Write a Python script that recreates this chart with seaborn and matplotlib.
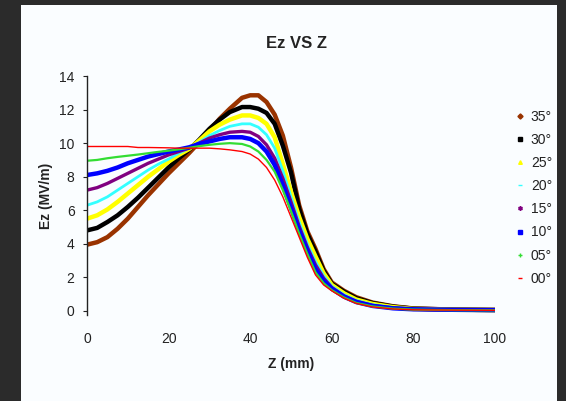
import matplotlib
matplotlib.use("Agg")
import matplotlib.pyplot as plt
from matplotlib.patches import Rectangle
from matplotlib.lines import Line2D
import seaborn as sns
import pandas as pd

sns.set_theme(style="white")
plt.rcParams['font.family'] = ['Liberation Sans', 'DejaVu Sans']

# ---- data ----
z = [0, 2.5, 5, 7.5, 10, 12.5, 15, 17.5, 20, 22.5, 25, 27.5, 30, 32.5, 35, 38, 40, 42, 44, 46,
     48, 50, 52, 54, 56, 58, 60, 63, 66, 70, 75, 80, 90, 100]

ez_35 = [3.95, 4.1, 4.4, 4.9, 5.5, 6.2, 6.9, 7.55, 8.2, 8.8, 9.4, 10.05, 10.75, 11.45, 12.05, 12.7, 12.85, 12.85, 12.45, 11.7,
         10.45, 8.55, 6.3, 4.75, 3.7, 2.5, 1.7, 1.2, 0.82, 0.5, 0.28, 0.15, 0.08, 0.06]
ez_30 = [4.8, 4.95, 5.3, 5.7, 6.2, 6.75, 7.35, 7.95, 8.55, 9.1, 9.6, 10.2, 10.85, 11.4, 11.85, 12.15, 12.15, 12.05, 11.8, 11.15,
         9.85, 8.25, 6.1, 4.6, 3.55, 2.4, 1.62, 1.15, 0.76, 0.47, 0.26, 0.14, 0.08, 0.06]
ez_25 = [5.5, 5.7, 6.05, 6.5, 7.0, 7.5, 8.0, 8.45, 8.9, 9.3, 9.65, 10.15, 10.7, 11.1, 11.4, 11.65, 11.65, 11.5, 11.15, 10.35,
         8.75, 7.1, 5.6, 4.3, 3.25, 2.25, 1.55, 1.05, 0.68, 0.42, 0.23, 0.12, 0.07, 0.05]
ez_20 = [6.3, 6.5, 6.8, 7.2, 7.6, 8.0, 8.4, 8.75, 9.05, 9.4, 9.7, 10.05, 10.45, 10.75, 11.0, 11.15, 11.15, 10.95, 10.5, 9.7,
         8.35, 6.8, 5.3, 4.0, 2.95, 2.1, 1.48, 0.97, 0.63, 0.38, 0.21, 0.11, 0.07, 0.05]
ez_15 = [7.2, 7.35, 7.6, 7.9, 8.2, 8.5, 8.8, 9.05, 9.3, 9.5, 9.7, 10.0, 10.3, 10.5, 10.65, 10.7, 10.65, 10.4, 9.9, 9.1,
         7.9, 6.5, 5.05, 3.8, 2.75, 1.95, 1.4, 0.9, 0.58, 0.33, 0.18, 0.1, 0.07, 0.05]
ez_10 = [8.1, 8.2, 8.35, 8.55, 8.8, 9.0, 9.2, 9.35, 9.5, 9.62, 9.75, 9.95, 10.1, 10.25, 10.35, 10.35, 10.25, 10.0, 9.5, 8.7,
         7.5, 6.15, 4.8, 3.6, 2.5, 1.8, 1.32, 0.85, 0.53, 0.3, 0.16, 0.1, 0.07, 0.05]
ez_05 = [8.95, 9.0, 9.1, 9.18, 9.25, 9.32, 9.4, 9.48, 9.55, 9.63, 9.72, 9.82, 9.9, 9.96, 10.0, 9.95, 9.8, 9.5, 9.0, 8.3,
         7.2, 5.95, 4.6, 3.4, 2.3, 1.65, 1.24, 0.8, 0.48, 0.27, 0.14, 0.08, 0.05, 0.04]
ez_00 = [9.8, 9.8, 9.8, 9.8, 9.8, 9.74, 9.74, 9.73, 9.72, 9.7, 9.7, 9.7, 9.7, 9.66, 9.6, 9.5, 9.35, 9.05, 8.55, 7.8,
         6.8, 5.6, 4.4, 3.2, 2.15, 1.55, 1.2, 0.76, 0.45, 0.24, 0.12, 0.07, 0.05, 0.04]

labels = ["35°", "30°", "25°", "20°", "15°", "10°", "05°", "00°"]
series = [ez_35, ez_30, ez_25, ez_20, ez_15, ez_10, ez_05, ez_00]

colors = ["#993300", "#000000", "#ffff00", "#33ffff", "#800080", "#0000ff", "#33dd33", "#ff0000"]
widths = [3.2, 3.2, 3.2, 2.0, 2.4, 3.2, 1.6, 1.0]
leg_markers = ["D", "s", "^", "_", "$\u2217$", "s", "+", "_"]

W, H = 566, 401
fig = plt.figure(figsize=(W / 100, H / 100), dpi=100, facecolor="#2b2b2b")
bg = "#fafdff"
fig.patches.append(Rectangle((21 / W, 0), (557 - 21) / W, (H - 5) / H,
                             transform=fig.transFigure, facecolor=bg, edgecolor="none", zorder=-10))

ax = fig.add_axes([87 / W, (H - 315) / H, (495 - 87) / W, (315 - 76) / H])
ax.set_facecolor("none")
ax.set_zorder(5)

for lab, vals, col, lw in zip(labels, series, colors, widths):
    df = pd.DataFrame({"Z": z, "Ez": vals})
    sns.lineplot(data=df, x="Z", y="Ez", ax=ax, color=col, linewidth=lw, legend=False)

ax.set_xlim(0, 100)
ax.set_ylim(-0.24, 14)
ax.set_xticks([0, 20, 40, 60, 80, 100])
ax.set_yticks([0, 2, 4, 6, 8, 10, 12, 14])
ax.tick_params(axis="x", length=0, pad=12, labelsize=10, colors="#222222")
ax.tick_params(axis="y", length=3, width=0.8, direction="out", left=True, pad=6, labelsize=10, colors="#222222")
ax.set_xticks([40], minor=True)
ax.tick_params(axis="x", which="minor", length=4, width=1, direction="out", bottom=True, color="#222222")
ax.spines["left"].set_bounds(-0.24, 14)
for s in ["top", "right", "bottom"]:
    ax.spines[s].set_visible(False)
ax.spines["left"].set_color("#222222")
ax.spines["left"].set_linewidth(1.0)

ax.set_xlabel("Z (mm)", fontsize=10, fontweight="bold", labelpad=8, color="#222222")
ax.set_ylabel("Ez (MV/m)", fontsize=10, fontweight="bold", labelpad=4, color="#222222")
fig.text(296 / W, 1 - 44 / H, "Ez VS Z", ha="center", va="center", fontsize=12, fontweight="bold", color="#222222")

handles = []
for lab, col, mk in zip(labels, colors, leg_markers):
    handles.append(Line2D([], [], linestyle="none", marker=mk, markersize=2.6,
                          color=col, markeredgecolor=col, markeredgewidth=1.0, label=lab))
leg = fig.legend(handles=handles, loc="upper left", bbox_to_anchor=(510 / W, 1 - 104 / H),
                 frameon=False, fontsize=10, handlelength=0.6, handletextpad=0.5,
                 labelspacing=0.66, borderaxespad=0)
for t in leg.get_texts():
    t.set_color("#222222")

fig.savefig("out.png", dpi=100, facecolor=fig.get_facecolor())
